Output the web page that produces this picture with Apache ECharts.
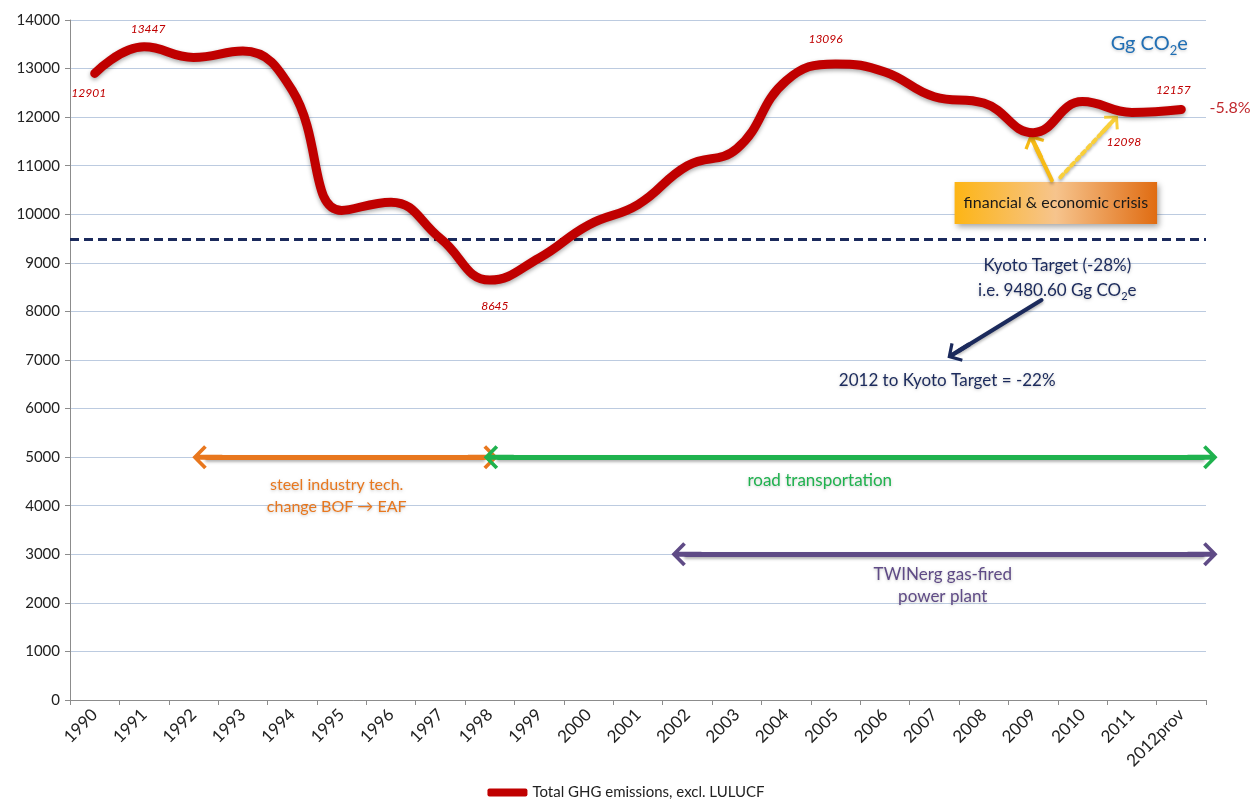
<!DOCTYPE html>
<html>
<head>
<meta charset="utf-8">
<script src="https://cdn.jsdelivr.net/npm/echarts@6/dist/echarts.min.js"></script>
<style>
html,body{margin:0;padding:0;background:#fff;}
#chart{width:1252px;height:808px;}
</style>
</head>
<body>
<div id="chart"></div>
<script>
// ---- data ----
var categories = ['1990','1991','1992','1993','1994','1995','1996','1997','1998','1999','2000','2001','2002','2003','2004','2005','2006','2007','2008','2009','2010','2011','2012prov'];
var emissions = [12901,13447,13230,13360,12550,10080,10250,9500,8645,9100,9780,10200,11000,11350,12750,13096,12930,12420,12290,11680,12320,12098,12157];
var labelledYears = ['1990','1991','1998','2005','2011','2012prov'];
var kyotoTarget = 9480.60;
var yTicks = [0,1000,2000,3000,4000,5000,6000,7000,8000,9000,10000,11000,12000,13000,14000];
var seriesName = 'Total GHG emissions, excl. LULUCF';

// annotation arrows, in [year, value]
var steelArrow = [[1992.28, 5000],[1997.86, 5000]];
var roadArrow = [[1998.18, 5000],[2012.43, 5000]];
var twinArrow = [[2001.98, 3000],[2012.43, 3000]];
var kyotoArrow = [[2009.17, 8235],[2007.49, 7186]];
var crisisArrowSolid = [[2009.38, 10700],[2009.05, 11400]];
var crisisArrowDotted = [[2009.55, 10760],[2010.55, 11850]];
var crisisBox = [[2007.41, 10665],[2011.51, 9800]];

var C = {
  red:'#c00000', navy:'#1b2a5c', orange:'#e8771e', green:'#1fb24e', purple:'#5f4b86',
  yellow:'#f7bb16', yellowLight:'#f9cf3a', blue:'#1f6eb4', grid:'#bccbe0', axis:'#8c8c8c', text:'#222'
};
var FONT = 'Lato';

var chevron = 'path://M0,0 L12,11 L9.5,13.5 L2.5,7 L2.5,28 L-2.5,28 L-2.5,7 L-9.5,13.5 L-12,11 Z';

function arrowLine(pts, color, width, both, size, type){
  var s = size || [24,30];
  return [
    {coord: pts[0], symbol: both ? chevron : 'none', symbolSize: s,
     lineStyle:{color:color, width:width, type: type || 'solid', cap:'round',
       shadowColor:'rgba(0,0,0,0.3)', shadowBlur:3, shadowOffsetY:2},
     itemStyle:{color:color}},
    {coord: pts[1], symbol: chevron, symbolSize: s, itemStyle:{color:color}}
  ];
}

var mainData = emissions.map(function(v, i){
  var show = labelledYears.indexOf(categories[i]) >= 0;
  var item = {value: v};
  if (show) {
    var pos = 'top', off = [0,0];
    if (categories[i] === '1990') { pos = 'bottom'; off = [-6, 9]; }
    else if (categories[i] === '1991') { pos = 'top'; off = [4, -7]; }
    else if (categories[i] === '1998') { pos = 'bottom'; off = [5, 15]; }
    else if (categories[i] === '2005') { pos = 'top'; off = [-10, -14]; }
    else if (categories[i] === '2011') { pos = 'bottom'; off = [-8, 19]; }
    else if (categories[i] === '2012prov') { pos = 'top'; off = [-8, -8]; }
    item.label = {show:true, position:pos, offset:off};
  }
  return item;
});

function textPoint(coord, text, color, size, extra){
  var lbl = Object.assign({show:true, position:'inside', formatter:text, color:color,
    fontFamily:FONT, fontSize:size, align:'center', verticalAlign:'middle',
    textShadowColor:'rgba(0,0,0,0.22)', textShadowBlur:3, textShadowOffsetY:1}, extra || {});
  return {coord: coord, symbol:'circle', symbolSize:1, itemStyle:{color:'rgba(0,0,0,0)'}, label: lbl};
}

var chart = echarts.init(document.getElementById('chart'), null, {renderer:'canvas'});
var option = {
  backgroundColor:'#fff',
  animation:false,
  textStyle:{fontFamily:FONT},
  grid:{left:70, right:46, top:20, bottom:108, containLabel:false},
  legend:{
    bottom:3, left:'center', data:[seriesName], icon:'roundRect', itemWidth:40, itemHeight:8,
    itemGap:4, textStyle:{fontFamily:FONT, fontSize:15, color:C.text}
  },
  xAxis:[
    {type:'category', data:categories, boundaryGap:true,
     axisLine:{lineStyle:{color:C.axis, width:1}},
     axisTick:{show:true, length:5, lineStyle:{color:C.axis}},
     axisLabel:{rotate:45, fontFamily:FONT, fontSize:17, color:C.text, margin:12, interval:0},
     splitLine:{show:false}},
    {type:'value', min:1989.5, max:2012.5, show:false}
  ],
  yAxis:{type:'value', min:yTicks[0], max:yTicks[yTicks.length-1], interval:1000,
    axisLine:{show:true, lineStyle:{color:C.axis}},
    axisTick:{show:true, length:5, lineStyle:{color:C.axis}},
    axisLabel:{fontFamily:FONT, fontSize:15, color:C.text, margin:10, formatter:function(v){return String(v);}},
    splitLine:{lineStyle:{color:C.grid, width:1}}},
  series:[
    {
      name:seriesName, type:'line', xAxisIndex:0, data:mainData, smooth:0.45,
      showSymbol:true, showAllSymbol:true, symbol:'circle', symbolSize:0, z:5,
      lineStyle:{color:C.red, width:9, cap:'round', join:'round',
        shadowColor:'rgba(0,0,0,0.35)', shadowBlur:4, shadowOffsetY:2},
      itemStyle:{color:C.red},
      label:{show:false, fontFamily:FONT, fontSize:12, fontStyle:'italic', color:C.red},
      markLine:{
        silent:true, symbol:['none','none'], animation:false,
        label:{show:false},
        lineStyle:{color:C.navy, width:3, type:[9,5]},
        data:[{yAxis:kyotoTarget}]
      }
    },
    {
      name:'annotations', type:'line', xAxisIndex:1, data:[], clip:false, z:6,
      markLine:{
        silent:true, animation:false, label:{show:false},
        data:[
          arrowLine(steelArrow, C.orange, 5, true),
          arrowLine(roadArrow, C.green, 5, true),
          arrowLine(twinArrow, C.purple, 5, true),
          arrowLine(kyotoArrow, C.navy, 4, false, [22,26]),
          arrowLine(crisisArrowSolid, C.yellow, 4, false, [22,26]),
          arrowLine(crisisArrowDotted, C.yellowLight, 4, false, [20,24], [4,4])
        ]
      },
      markArea:{
        silent:true,
        itemStyle:{
          color:{type:'linear', x:0, y:0, x2:1, y2:0, colorStops:[
            {offset:0, color:'#fdb515'},{offset:0.5, color:'#f6c48d'},{offset:1, color:'#e06c12'}]},
          shadowColor:'rgba(0,0,0,0.35)', shadowBlur:6, shadowOffsetX:2, shadowOffsetY:3
        },
        label:{show:true, position:'inside', color:'#1a1a1a', fontFamily:FONT, fontSize:16},
        data:[[{coord:crisisBox[0], name:'financial & economic crisis'},{coord:crisisBox[1]}]]
      },
      markPoint:{
        silent:true, animation:false,
        data:[
          textPoint([2011.35, 13560], '{a|Gg CO}{s|2}{a|e}', C.blue, 20, {
            rich:{a:{fontFamily:FONT, fontSize:20, color:C.blue, verticalAlign:'bottom', lineHeight:24},
                  s:{fontFamily:FONT, fontSize:13, color:C.blue, verticalAlign:'bottom', lineHeight:16, padding:[0,0,-4,0]}}}),
          textPoint([2012.4, 12200], '-5.8%', '#c0282d', 16, {offset:[29,0], textShadowBlur:0}),
          textPoint([2009.49, 8935], 'Kyoto Target (-28%)', C.navy, 17),
          textPoint([2009.49, 8470], '{a|i.e. 9480.60 Gg CO}{s|2}{a|e}', C.navy, 17, {
            rich:{a:{fontFamily:FONT, fontSize:17, color:C.navy, verticalAlign:'bottom', lineHeight:20},
                  s:{fontFamily:FONT, fontSize:11, color:C.navy, verticalAlign:'bottom', lineHeight:14, padding:[0,0,-3,0]}}}),
          textPoint([2007.26, 6568], '2012 to Kyoto Target = -22%', C.navy, 17),
          textPoint([1994.9, 4210], 'steel industry tech.\nchange BOF \u2192 EAF', C.orange, 16, {lineHeight:22}),
          textPoint([2004.68, 4509], 'road transportation', C.green, 17),
          textPoint([2007.17, 2347], 'TWINerg gas-fired\npower plant', C.purple, 17, {lineHeight:22})
        ]
      }
    }
  ]
};
chart.setOption(option);
</script>
</body>
</html>
